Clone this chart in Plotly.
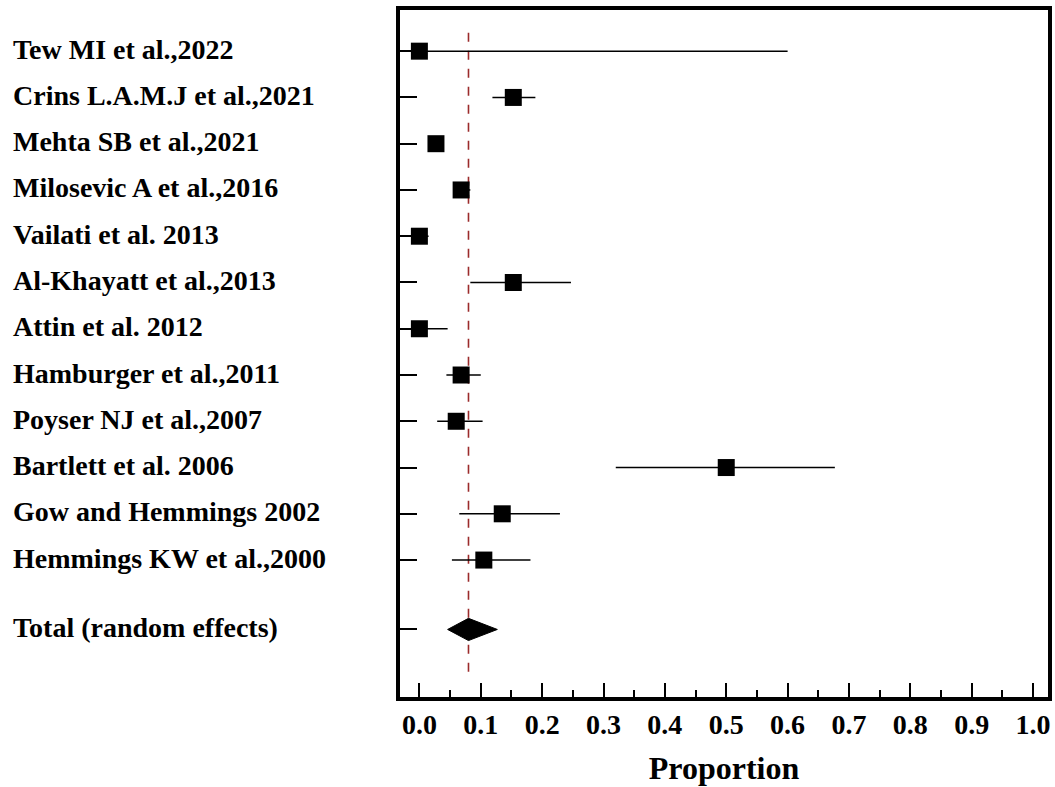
import plotly.graph_objects as go

studies = [
    "Tew MI et al.,2022",
    "Crins L.A.M.J et al.,2021",
    "Mehta SB et al.,2021",
    "Milosevic A et al.,2016",
    "Vailati et al. 2013",
    "Al-Khayatt et al.,2013",
    "Attin et al. 2012",
    "Hamburger et al.,2011",
    "Poyser NJ et al.,2007",
    "Bartlett et al. 2006",
    "Gow and Hemmings 2002",
    "Hemmings KW et al.,2000",
]
proportion = [0.0, 0.153, 0.027, 0.068, 0.0, 0.153, 0.0, 0.068, 0.060, 0.500, 0.135, 0.105]
ci_low = [0.0, 0.119, 0.016, 0.055, 0.0, 0.083, 0.0, 0.044, 0.029, 0.320, 0.065, 0.053]
ci_high = [0.600, 0.189, 0.039, 0.083, 0.015, 0.247, 0.046, 0.100, 0.103, 0.677, 0.229, 0.181]

total_label = "Total (random effects)"
total_est = 0.080
total_low = 0.046
total_high = 0.127

x_ticks = [0.0, 0.1, 0.2, 0.3, 0.4, 0.5, 0.6, 0.7, 0.8, 0.9, 1.0]
x_title = "Proportion"

FONT = "Times New Roman, Liberation Serif, serif"

rows = list(range(len(studies)))
total_row = len(studies) + 0.5

fig = go.Figure()

# pooled estimate reference line
fig.add_shape(type="line", xref="x", yref="y",
              x0=total_est, x1=total_est, y0=-0.4, y1=13.6,
              line=dict(color="#9B2B2B", width=1.6, dash="dash"), layer="below")

fig.add_trace(go.Scatter(
    x=proportion, y=rows, mode="markers",
    marker=dict(symbol="square", size=17, color="black", line=dict(width=0)),
    error_x=dict(type="data", symmetric=False,
                 array=[h - p for h, p in zip(ci_high, proportion)],
                 arrayminus=[p - l for p, l in zip(proportion, ci_low)],
                 color="black", thickness=1.5, width=0),
    showlegend=False, hoverinfo="x+y",
))

# diamond for pooled estimate
dh = 0.24
fig.add_trace(go.Scatter(
    x=[total_low, total_est, total_high, total_est, total_low],
    y=[total_row, total_row - dh, total_row, total_row + dh, total_row],
    mode="lines", fill="toself", fillcolor="black",
    line=dict(color="black", width=1), showlegend=False, hoverinfo="skip",
))

LABEL_X = -0.601
for r, s in zip(rows, studies):
    fig.add_annotation(x=LABEL_X, xref="paper", y=r, yref="y", text=f"<b>{s}</b>",
                       showarrow=False, xanchor="left", yanchor="middle", yshift=2,
                       font=dict(family=FONT, size=28, color="black"))
fig.add_annotation(x=LABEL_X, xref="paper", y=total_row, yref="y", text=f"<b>{total_label}</b>",
                   showarrow=False, xanchor="left", yanchor="middle", yshift=2,
                   font=dict(family=FONT, size=28, color="black"))

fig.update_xaxes(
    range=[-0.0316, 1.0243],
    tickvals=x_ticks, ticktext=[f"<b>{v:.1f}</b>" for v in x_ticks],
    ticks="inside", ticklen=14, tickwidth=2, tickcolor="black",
    minor=dict(dtick=0.05, tick0=0.0, ticks="inside", ticklen=7, tickwidth=2, tickcolor="black"),
    tickfont=dict(family=FONT, size=28, color="black"),
    showline=True, linewidth=3.5, linecolor="black", mirror=True,
    showgrid=False, zeroline=False,
    title=dict(text=f"<b>{x_title}</b>", font=dict(family=FONT, size=32, color="black"), standoff=18),
)
fig.update_yaxes(
    range=[13.96, -0.89],
    tickvals=rows + [total_row], ticktext=[""] * (len(rows) + 1),
    ticks="inside", ticklen=17, tickwidth=1.5, tickcolor="black",
    showline=True, linewidth=3.5, linecolor="black", mirror=True,
    showgrid=False, zeroline=False, showticklabels=False,
)

fig.update_layout(
    width=1055, height=787,
    margin=dict(l=400, r=3, t=10, b=90),
    paper_bgcolor="white", plot_bgcolor="white",
    font=dict(family=FONT, color="black"),
)

fig.write_html("out.html",
               config={"displayModeBar": False},
               post_script="document.body.style.margin='0';document.body.style.overflow='hidden';")
